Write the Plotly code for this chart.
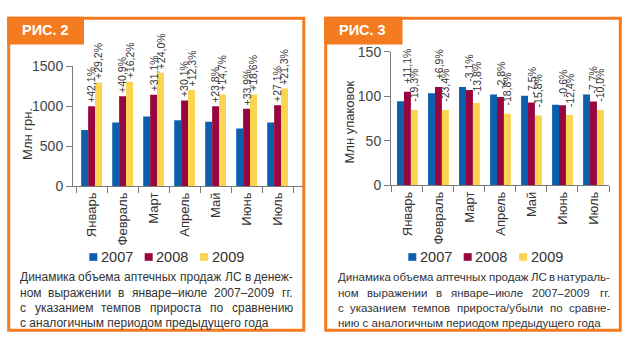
import plotly.graph_objects as go

# ---- data -------------------------------------------------------------
months = ["Январь", "Февраль", "Март", "Апрель", "Май", "Июнь", "Июль"]
years = ["2007", "2008", "2009"]

# Fig. 2: sales in money terms, mln UAH
uah_2007 = [704, 798, 873, 824, 808, 723, 796]
uah_2008 = [1000, 1124, 1144, 1072, 1000, 968, 1012]
uah_2009 = [1298, 1306, 1418, 1204, 1147, 1148, 1222]
uah_growth_2008 = ["+42,1%", "+40,9%", "+31,1%", "+30,1%", "+23,8%", "+33,9%", "+27,1%"]
uah_growth_2009 = ["+29,2%", "+16,2%", "+24,0%", "+12,3%", "+14,7%", "+18,6%", "+21,3%"]
uah_ticks = [0, 500, 1000, 1500]

# Fig. 3: sales in physical terms, mln packages
pack_2007 = [94.6, 103.6, 110.7, 102.1, 100.7, 90.7, 102.1]
pack_2008 = [105.1, 110.7, 107.3, 99.2, 93.2, 90.2, 94.2]
pack_2009 = [84.8, 84.8, 92.5, 80.6, 78.5, 79.0, 84.8]
pack_growth_2008 = ["+11,1%", "+6,9%", "-3,1%", "-2,8%", "-7,5%", "-0,6%", "-7,7%"]
pack_growth_2009 = ["-19,3%", "-23,4%", "-13,8%", "-18,8%", "-15,8%", "-12,4%", "-10,0%"]
pack_ticks = [0, 50, 100, 150]

captions_left = [
    "Динамика объема аптечных продаж ЛС в денеж-",
    "ном выражении в январе–июле 2007–2009 гг.",
    "с указанием темпов прироста по сравнению",
    "с аналогичным периодом предыдущего года",
]
captions_right = [
    "Динамика объема аптечных продаж ЛС в натураль-",
    "ном выражении в январе–июле 2007–2009 гг.",
    "с указанием темпов прироста/убыли по сравне-",
    "нию с аналогичным периодом предыдущего года",
]

# ---- styling ----------------------------------------------------------
W, H = 630, 348
FONT = "Liberation Sans, Arial, sans-serif"
ORANGE = "#f47b20"
TEXT = "#333333"
AXIS = "#7a7a7a"
colors = {"2007": "#0b5fac", "2008": "#98063f", "2009": "#fdd44f"}
BARGAP = 0.33

# plot-area geometry in pixels: (left, right, bottom, top, x-range)
LEFT_AREA = (73, 303, 187, 61, [-0.6, 6.82])
RIGHT_AREA = (391, 609, 186, 46, [-0.53, 6.5])

# advance widths (1/1000 em) of the caption glyphs, used to justify the
# caption lines word by word
GLYPH_W = {
    "а": 556, "б": 573, "в": 531, "г": 365, "д": 583, "е": 556, "ж": 669,
    "з": 458, "и": 559, "й": 559, "к": 438, "л": 583, "м": 688, "н": 552,
    "о": 556, "п": 542, "р": 556, "с": 500, "т": 458, "у": 500, "ф": 823,
    "х": 500, "ц": 560, "ч": 531, "ш": 802, "щ": 823, "ъ": 667, "ы": 719,
    "ь": 521, "э": 510, "ю": 750, "я": 542, "Д": 688, "Л": 667, "С": 722,
    "–": 556, "-": 333, ".": 278, "/": 278, " ": 278,
}


def text_width(s, size):
    return sum(GLYPH_W.get(c, 556) for c in s) * size / 1000


def px(x):
    return x / W


def py(y):
    return 1 - y / H


fig = go.Figure()
annotations = []
shapes = []


def add_panel(series, labels, xa, ya, area, label_pad):
    left, right, _, _, xr = area
    cat_px = (right - left) / (xr[1] - xr[0])
    bar_px = cat_px * (1 - BARGAP) / len(years)
    for k, (year, vals) in enumerate(zip(years, series)):
        fig.add_trace(go.Bar(
            x=months, y=vals, name=year,
            marker=dict(color=colors[year], line=dict(width=0)),
            xaxis=xa, yaxis=ya, showlegend=False, hoverinfo="skip",
        ))
        lab = labels.get(year)
        if not lab:
            continue
        # rotated growth label sitting on top of its bar
        shift = (k - (len(years) - 1) / 2) * bar_px
        for m, v, t in zip(months, vals, lab):
            annotations.append(dict(
                text=t, x=m, y=v, xref=xa, yref=ya, xshift=shift,
                yshift=label_pad, textangle=-90, showarrow=False,
                xanchor="center", yanchor="bottom",
                font=dict(family=FONT, size=10.5, color=TEXT)))


add_panel([uah_2007, uah_2008, uah_2009],
          {"2008": uah_growth_2008, "2009": uah_growth_2009},
          "x", "y", LEFT_AREA, 1)
add_panel([pack_2007, pack_2008, pack_2009],
          {"2008": pack_growth_2008, "2009": pack_growth_2009},
          "x2", "y2", RIGHT_AREA, 6)

xcommon = dict(type="category", tickson="boundaries", ticks="outside",
               ticklen=6, tickcolor=AXIS, showline=True, linecolor=AXIS,
               linewidth=1, tickangle=-90, showgrid=False,
               tickfont=dict(family=FONT, size=13, color=TEXT), fixedrange=True)
ycommon = dict(ticks="outside", ticklen=6, tickcolor=AXIS, showline=True,
               linecolor=AXIS, linewidth=1, showgrid=False, zeroline=False,
               tickfont=dict(family=FONT, size=14, color="#444444"),
               fixedrange=True)

fig.update_layout(
    width=W, height=H, margin=dict(l=0, r=0, t=0, b=0),
    paper_bgcolor="white", plot_bgcolor="white",
    barmode="group", bargap=BARGAP, bargroupgap=0,
    xaxis=dict(xcommon, domain=[px(LEFT_AREA[0]), px(LEFT_AREA[1])],
               range=LEFT_AREA[4], anchor="y"),
    yaxis=dict(ycommon, domain=[py(LEFT_AREA[2]), py(LEFT_AREA[3])],
               range=[0, 1500], tickvals=uah_ticks, anchor="x"),
    xaxis2=dict(xcommon, domain=[px(RIGHT_AREA[0]), px(RIGHT_AREA[1])],
                range=RIGHT_AREA[4], anchor="y2"),
    yaxis2=dict(ycommon, domain=[py(RIGHT_AREA[2]), py(RIGHT_AREA[3])],
                range=[0, 150], tickvals=pack_ticks, anchor="x2"),
)

# frames with title tabs
for (x0, x1, tab_x1, title) in [(8.7, 303.8, 82.5, "РИС. 2"),
                                (325.7, 620.3, 401, "РИС. 3")]:
    shapes.append(dict(type="rect", xref="paper", yref="paper",
                       x0=px(x0), x1=px(x1), y0=py(337.7), y1=py(10.7),
                       line=dict(color=ORANGE, width=3), layer="below"))
    shapes.append(dict(type="rect", xref="paper", yref="paper",
                       x0=px(x0), x1=px(tab_x1), y0=py(36.8), y1=py(10.7),
                       line=dict(color=ORANGE, width=3), fillcolor=ORANGE))
    annotations.append(dict(text=f"<b>{title}</b>", xref="paper", yref="paper",
                            x=px(x0 + 11.5), y=py(23.5), xanchor="left",
                            yanchor="middle", showarrow=False,
                            font=dict(family=FONT, size=14.5, color="white")))

# axis titles
annotations.append(dict(text="Млн грн.", xref="paper", yref="paper",
                        x=px(28), y=py(132), textangle=-90, showarrow=False,
                        xanchor="center", yanchor="middle",
                        font=dict(family=FONT, size=13, color=TEXT)))
annotations.append(dict(text="Млн упаковок", xref="paper", yref="paper",
                        x=px(349), y=py(120), textangle=-90, showarrow=False,
                        xanchor="center", yanchor="middle",
                        font=dict(family=FONT, size=13, color=TEXT)))

# legends
for start in (89.3, 408.3):
    for i, year in enumerate(years):
        sx = start + i * 55.4
        shapes.append(dict(type="rect", xref="paper", yref="paper",
                           x0=px(sx), x1=px(sx + 8), y0=py(265), y1=py(257),
                           fillcolor=colors[year], line=dict(width=0)))
        annotations.append(dict(text=year, xref="paper", yref="paper",
                                x=px(sx + 9.5), y=py(261), xanchor="left",
                                yanchor="middle", showarrow=False,
                                font=dict(family=FONT, size=14.5, color=TEXT)))


def caption_word(text, x, y, anchor, size):
    annotations.append(dict(text=text, xref="paper", yref="paper",
                            x=px(x), y=py(y), xanchor=anchor,
                            yanchor="middle", showarrow=False,
                            borderpad=0, borderwidth=0,
                            font=dict(family=FONT, size=size, color=TEXT)))


# justified captions (last line of each paragraph left-aligned)
for x0, x1, size, lines in ((20, 293, 12, captions_left),
                            (338, 610, 11.5, captions_right)):
    for n, (ly, line) in enumerate(zip((282, 298.5, 314.5, 330), lines)):
        words = line.split(" ")
        if n == len(lines) - 1 or len(words) < 2:
            caption_word(line, x0, ly, "left", size)
            continue
        widths = [text_width(w, size) for w in words]
        gap = (x1 - x0 - sum(widths)) / (len(words) - 1)
        pos = x0
        for j, (w, wd) in enumerate(zip(words, widths)):
            if j == len(words) - 1:
                caption_word(w, x1, ly, "right", size)
            else:
                caption_word(w, pos, ly, "left", size)
            pos += wd + gap

fig.update_layout(shapes=shapes, annotations=annotations)
fig.write_html("out.html")
